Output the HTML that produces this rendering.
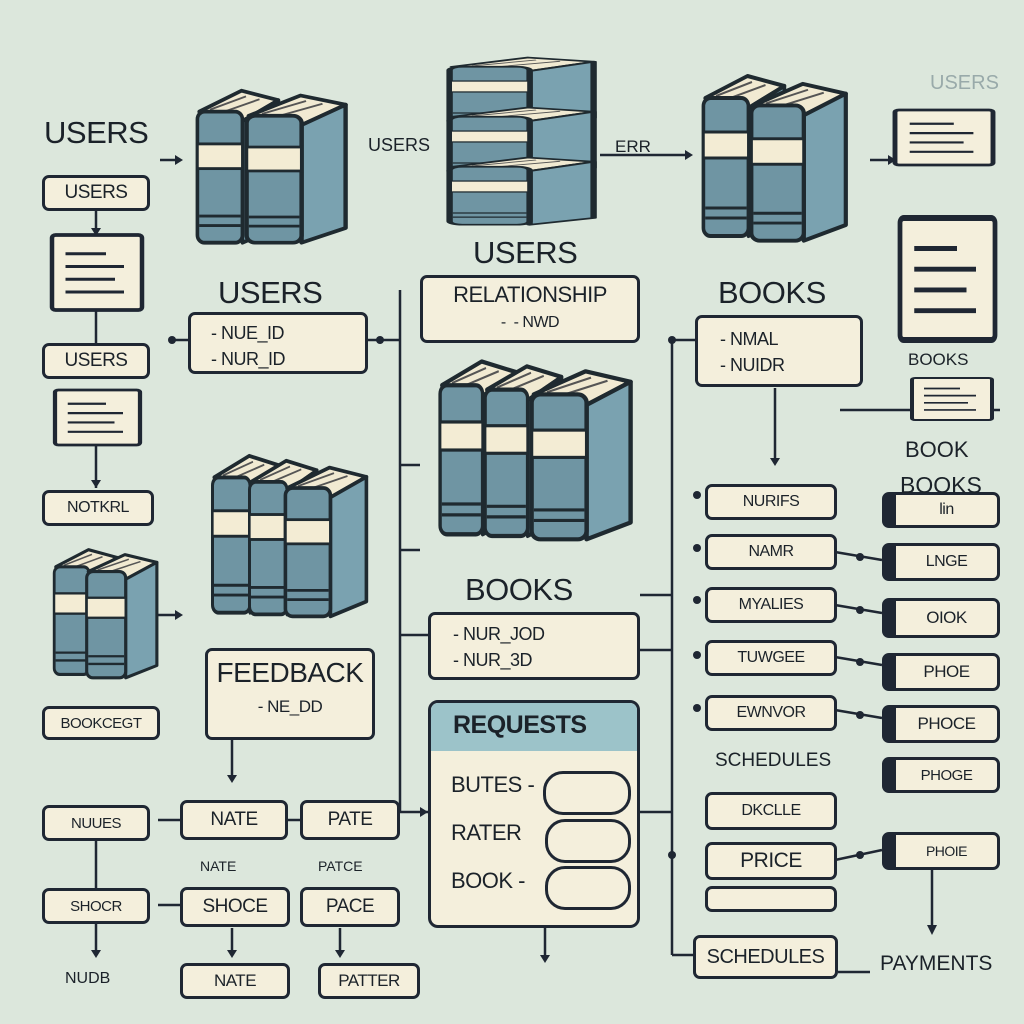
<!DOCTYPE html>
<html><head><meta charset="utf-8"><style>
body{margin:0;width:1024px;height:1024px;background:#dce7dc;overflow:hidden;position:relative;font-family:"Liberation Sans",sans-serif;color:#1b2229}
.b{position:absolute;box-sizing:border-box;background:#f4efdc;border:3px solid #1f2733;border-radius:7px;text-align:center;font-size:19px;letter-spacing:-0.5px;display:flex;align-items:center;justify-content:center}
.rt{border-left:14px solid #1f2733}
.t{position:absolute;white-space:nowrap}
.big{font-size:31px;letter-spacing:-0.5px}
.ln{font-size:18px;text-align:left;line-height:26px}
svg{position:absolute;left:0;top:0}
</style></head><body>
<svg width="1024" height="1024" viewBox="0 0 1024 1024">
<defs>
<g id="bk">
<polygon points="8,28 55,6 96,16 56,38" fill="#f1ead2" stroke="#1f2a30" stroke-width="4" stroke-linejoin="round"/>
<line x1="20" y1="26" x2="60" y2="12" stroke="#555" stroke-width="2"/><line x1="30" y1="30" x2="75" y2="15" stroke="#555" stroke-width="2"/>
<polygon points="56,38 96,16 96,150 56,166" fill="#7aa2b0" stroke="#1f2a30" stroke-width="4" stroke-linejoin="round"/>
<rect x="6" y="28" width="50" height="138" rx="8" fill="#6f95a3" stroke="#1f2a30" stroke-width="4"/>
<rect x="6" y="62" width="50" height="26" fill="#f3ecd4" stroke="#1f2a30" stroke-width="3"/>
<line x1="8" y1="138" x2="54" y2="138" stroke="#1f2a30" stroke-width="3"/><line x1="8" y1="148" x2="54" y2="148" stroke="#1f2a30" stroke-width="3"/>
</g>
<g id="doc"><rect x="0" y="0" width="100" height="100" rx="4" fill="#f4efdc" stroke="#1f2733" stroke-width="5"/>
<line x1="15" y1="25" x2="60" y2="25" stroke="#1f2733" stroke-width="4"/><line x1="15" y1="42" x2="80" y2="42" stroke="#1f2733" stroke-width="4"/><line x1="15" y1="59" x2="70" y2="59" stroke="#1f2733" stroke-width="4"/><line x1="15" y1="76" x2="80" y2="76" stroke="#1f2733" stroke-width="4"/></g>
</defs>
<g stroke="#1f2733" stroke-width="2.5" fill="none">
<line x1="400" y1="290" x2="400" y2="812"/><line x1="400" y1="812" x2="428" y2="812"/>
<line x1="672" y1="340" x2="672" y2="955"/><line x1="672" y1="340" x2="695" y2="340"/>
<line x1="672" y1="955" x2="693" y2="955"/>
<line x1="368" y1="340" x2="400" y2="340"/><line x1="172" y1="340" x2="188" y2="340"/>
<line x1="400" y1="465" x2="420" y2="465"/><line x1="400" y1="550" x2="420" y2="550"/><line x1="400" y1="635" x2="428" y2="635"/>
<line x1="96" y1="210" x2="96" y2="232"/><line x1="96" y1="310" x2="96" y2="343"/><line x1="96" y1="440" x2="96" y2="488"/>
<line x1="96" y1="840" x2="96" y2="888"/><line x1="96" y1="923" x2="96" y2="955"/>
<line x1="232" y1="740" x2="232" y2="780"/><line x1="232" y1="928" x2="232" y2="955"/><line x1="340" y1="928" x2="340" y2="955"/>
<line x1="158" y1="820" x2="180" y2="820"/><line x1="288" y1="820" x2="300" y2="820"/><line x1="158" y1="905" x2="180" y2="905"/>
<line x1="545" y1="925" x2="545" y2="960"/><line x1="775" y1="388" x2="775" y2="462"/>
<line x1="840" y1="410" x2="1000" y2="410"/>
<line x1="932" y1="870" x2="932" y2="930"/>
<line x1="835" y1="552" x2="882" y2="560"/><line x1="835" y1="605" x2="882" y2="613"/><line x1="835" y1="657" x2="882" y2="665"/><line x1="835" y1="710" x2="882" y2="718"/>
<line x1="835" y1="860" x2="882" y2="850"/><line x1="640" y1="650" x2="672" y2="650"/><line x1="640" y1="595" x2="672" y2="595"/>
<line x1="640" y1="812" x2="672" y2="812"/><line x1="838" y1="972" x2="870" y2="972"/>
<line x1="160" y1="160" x2="175" y2="160"/><line x1="600" y1="155" x2="685" y2="155"/><line x1="870" y1="160" x2="888" y2="160"/>
<line x1="155" y1="615" x2="175" y2="615"/>
</g>
<g fill="#1f2733">
<polygon points="175,155 175,165 183,160"/><polygon points="685,150 685,160 693,155"/><polygon points="888,155 888,165 896,160"/>
<polygon points="91,228 101,228 96,236"/><polygon points="91,480 101,480 96,488"/><polygon points="91,950 101,950 96,958"/>
<polygon points="227,775 237,775 232,783"/><polygon points="227,950 237,950 232,958"/><polygon points="335,950 345,950 340,958"/>
<polygon points="540,955 550,955 545,963"/><polygon points="770,458 780,458 775,466"/><polygon points="927,925 937,925 932,935"/>
<polygon points="420,807 420,817 428,812"/><polygon points="175,610 175,620 183,615"/>
<circle cx="172" cy="340" r="4"/><circle cx="380" cy="340" r="4"/><circle cx="672" cy="340" r="4"/><circle cx="672" cy="855" r="4"/>
<circle cx="697" cy="495" r="4"/><circle cx="697" cy="548" r="4"/><circle cx="697" cy="600" r="4"/><circle cx="697" cy="655" r="4"/><circle cx="697" cy="708" r="4"/>
<circle cx="860" cy="557" r="4"/><circle cx="860" cy="610" r="4"/><circle cx="860" cy="662" r="4"/><circle cx="860" cy="715" r="4"/><circle cx="860" cy="855" r="4"/>
</g>
<use href="#bk" transform="translate(192,85) scale(0.9,0.95)"/><use href="#bk" transform="translate(240,90) scale(1.1,0.92)"/>
<use href="#bk" transform="translate(440,55) scale(1.6,0.42)"/><use href="#bk" transform="translate(440,105) scale(1.6,0.42)"/><use href="#bk" transform="translate(440,155) scale(1.6,0.42)"/>
<use href="#bk" transform="translate(698,70) scale(0.9,1)"/><use href="#bk" transform="translate(745,78) scale(1.05,0.98)"/>
<use href="#bk" transform="translate(435,355) scale(0.85,1.08)"/><use href="#bk" transform="translate(480,360) scale(0.85,1.06)"/><use href="#bk" transform="translate(525,365) scale(1.1,1.05)"/>
<use href="#bk" transform="translate(208,450) scale(0.75,0.98)"/><use href="#bk" transform="translate(245,455) scale(0.75,0.96)"/><use href="#bk" transform="translate(280,462) scale(0.9,0.93)"/>
<use href="#bk" transform="translate(50,545) scale(0.7,0.78)"/><use href="#bk" transform="translate(82,550) scale(0.78,0.77)"/>
<use href="#doc" transform="translate(52,235) scale(0.9,0.75)"/><use href="#doc" transform="translate(55,390) scale(0.85,0.55)"/>
<use href="#doc" transform="translate(895,110) scale(0.98,0.55)"/><use href="#doc" transform="translate(900,218) scale(0.95,1.22)"/>
<use href="#doc" transform="translate(912,378) scale(0.8,0.42)"/>
</svg>

<div class="t big" style="left:44px;top:115px">USERS</div>
<div class="b" style="left:42px;top:175px;width:108px;height:36px">USERS</div>
<div class="b" style="left:42px;top:343px;width:108px;height:36px">USERS</div>
<div class="b" style="left:42px;top:490px;width:112px;height:36px;font-size:16px">NOTKRL</div>
<div class="b" style="left:42px;top:706px;width:118px;height:34px;font-size:15px">BOOKCEGT</div>
<div class="b" style="left:42px;top:805px;width:108px;height:36px;font-size:15px">NUUES</div>
<div class="b" style="left:42px;top:888px;width:108px;height:36px;font-size:15px">SHOCR</div>
<div class="t" style="left:65px;top:970px;font-size:16px">NUDB</div>

<div class="t big" style="left:218px;top:275px">USERS</div>
<div class="b ln" style="left:188px;top:312px;width:180px;height:62px;display:block;padding:5px 0 0 20px">- NUE_ID<br>- NUR_ID</div>
<div class="b" style="left:205px;top:648px;width:170px;height:92px;display:block;padding-top:6px"><div style="font-size:28px">FEEDBACK</div><div style="font-size:17px;margin-top:8px">- NE_DD</div></div>
<div class="b" style="left:180px;top:800px;width:108px;height:40px">NATE</div>
<div class="b" style="left:300px;top:800px;width:100px;height:40px">PATE</div>
<div class="t" style="left:200px;top:858px;font-size:14px">NATE</div><div class="t" style="left:318px;top:858px;font-size:14px">PATCE</div>
<div class="b" style="left:180px;top:887px;width:110px;height:40px">SHOCE</div>
<div class="b" style="left:300px;top:887px;width:100px;height:40px">PACE</div>
<div class="b" style="left:180px;top:963px;width:110px;height:36px;font-size:17px">NATE</div>
<div class="b" style="left:318px;top:963px;width:102px;height:36px;font-size:17px">PATTER</div>

<div class="t" style="left:368px;top:135px;font-size:18px">USERS</div>
<div class="t" style="left:615px;top:137px;font-size:17px">ERR</div>
<div class="t big" style="left:473px;top:235px">USERS</div>
<div class="b" style="left:420px;top:275px;width:220px;height:68px;display:block;padding-top:4px"><div style="font-size:22px">RELATIONSHIP</div><div style="font-size:16px;margin-top:6px">- &nbsp;- NWD</div></div>
<div class="t big" style="left:465px;top:572px">BOOKS</div>
<div class="b ln" style="left:428px;top:612px;width:212px;height:68px;display:block;padding:6px 0 0 22px">- NUR_JOD<br>- NUR_3D</div>
<div class="b" style="left:428px;top:700px;width:212px;height:228px;display:block;border-radius:10px;overflow:hidden;text-align:left">
<div style="background:#9cc3c9;height:48px;font-size:25px;font-weight:bold;padding:8px 0 0 22px;box-sizing:border-box">REQUESTS</div>
<div style="font-size:22px;padding-left:20px;line-height:48px;margin-top:10px">BUTES -<br>RATER<br>BOOK -</div>
<div style="position:absolute;left:112px;top:68px;width:82px;height:38px;border:3px solid #1f2733;border-radius:20px"></div>
<div style="position:absolute;left:114px;top:116px;width:80px;height:38px;border:3px solid #1f2733;border-radius:20px"></div>
<div style="position:absolute;left:114px;top:163px;width:80px;height:38px;border:3px solid #1f2733;border-radius:20px"></div>
</div>

<div class="t big" style="left:718px;top:275px">BOOKS</div>
<div class="b ln" style="left:695px;top:315px;width:168px;height:72px;display:block;padding:8px 0 0 22px">- NMAL<br>- NUIDR</div>
<div class="t" style="left:908px;top:350px;font-size:17px">BOOKS</div>
<div class="t" style="left:905px;top:437px;font-size:22px">BOOK</div>
<div class="b" style="left:705px;top:484px;width:132px;height:36px;font-size:16px">NURIFS</div>
<div class="b" style="left:705px;top:534px;width:132px;height:36px;font-size:16px">NAMR</div>
<div class="b" style="left:705px;top:587px;width:132px;height:36px;font-size:16px">MYALIES</div>
<div class="b" style="left:705px;top:640px;width:132px;height:36px;font-size:16px">TUWGEE</div>
<div class="b" style="left:705px;top:695px;width:132px;height:36px;font-size:16px">EWNVOR</div>
<div class="t" style="left:715px;top:750px;font-size:19px">SCHEDULES</div>
<div class="b" style="left:705px;top:792px;width:132px;height:38px;font-size:16px">DKCLLE</div>
<div class="b" style="left:705px;top:842px;width:132px;height:38px;font-size:21px">PRICE</div>
<div class="b" style="left:705px;top:886px;width:132px;height:26px;font-size:12px"></div>
<div class="b rt" style="left:882px;top:492px;width:118px;height:36px;font-size:16px">lin</div>
<div class="t" style="left:900px;top:472px;font-size:23px">BOOKS</div>
<div class="b rt" style="left:882px;top:543px;width:118px;height:38px;font-size:16px">LNGE</div>
<div class="b rt" style="left:882px;top:598px;width:118px;height:40px;font-size:17px">OIOK</div>
<div class="b rt" style="left:882px;top:653px;width:118px;height:38px;font-size:17px">PHOE</div>
<div class="b rt" style="left:882px;top:705px;width:118px;height:38px;font-size:17px">PHOCE</div>
<div class="b rt" style="left:882px;top:757px;width:118px;height:36px;font-size:15px">PHOGE</div>
<div class="b rt" style="left:882px;top:832px;width:118px;height:38px;font-size:14px">PHOIE</div>
<div class="b" style="left:693px;top:935px;width:145px;height:44px;font-size:20px">SCHEDULES</div>
<div class="t" style="left:880px;top:952px;font-size:21px">PAYMENTS</div>
<div class="t" style="left:930px;top:72px;font-size:20px;color:#9aa;">USERS</div>
</body></html>
